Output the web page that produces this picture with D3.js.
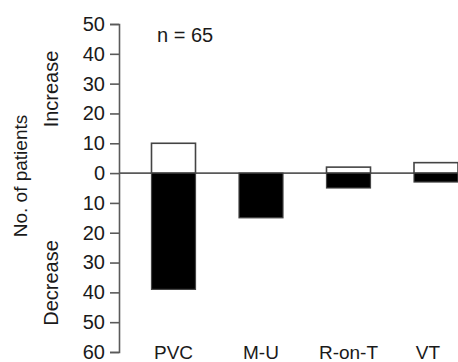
<!DOCTYPE html>
<html>
<head>
<meta charset="utf-8">
<script src="https://cdn.jsdelivr.net/npm/d3@7"></script>
<style>
  html, body { margin: 0; padding: 0; background: #fff; }
  svg { display: block; }
  text { font-family: "Liberation Sans", Arial, sans-serif; fill: #1a1a1a; }
</style>
</head>
<body>
<svg id="chart" width="458" height="362"></svg>
<script>
const categories = ["PVC", "M-U", "R-on-T", "VT"];
const increaseValues = [10, 0, 2, 3.5];
const decreaseValues = [39, 15, 5, 3];
const tickValues = [50, 40, 30, 20, 10, 0, -10, -20, -30, -40, -50, -60];
const tickLabels = ["50", "40", "30", "20", "10", "0", "10", "20", "30", "40", "50", "60"];
const annotation = "n = 65";

const svg = d3.select("#chart");
const W = 458, H = 362;
const axisX = 119;

const y = d3.scaleLinear().domain([-60, 50]).range([352, 24]);
const x = d3.scalePoint().domain(categories).range([173.5, 436]);
const barW = 44;
const lineColor = "#5a5a5a";

// zero line
svg.append("line")
  .attr("x1", axisX).attr("x2", W)
  .attr("y1", y(0)).attr("y2", y(0))
  .attr("stroke", lineColor).attr("stroke-width", 1.6);

// y axis
const yAxis = d3.axisLeft(y)
  .tickValues(tickValues)
  .tickFormat((d, i) => tickLabels[i])
  .tickSize(9)
  .tickPadding(5);
const gAxis = svg.append("g").attr("transform", `translate(${axisX},0)`).call(yAxis);
gAxis.select(".domain").attr("stroke", lineColor).attr("stroke-width", 1.6);
gAxis.selectAll(".tick line").attr("stroke", lineColor).attr("stroke-width", 1.6);
gAxis.selectAll(".tick text")
  .attr("font-family", "Liberation Sans, Arial, sans-serif")
  .attr("font-size", 20).attr("fill", "#1a1a1a");

// increase bars (white)
svg.selectAll("rect.inc")
  .data(categories.map((c, i) => ({c, v: increaseValues[i]})).filter(d => d.v > 0))
  .enter().append("rect").attr("class", "inc")
  .attr("x", d => x(d.c) - barW / 2)
  .attr("width", barW)
  .attr("y", d => y(d.v))
  .attr("height", d => y(0) - y(d.v))
  .attr("fill", "#fff").attr("stroke", "#444").attr("stroke-width", 1.6);

// decrease bars (black)
svg.selectAll("rect.dec")
  .data(categories.map((c, i) => ({c, v: decreaseValues[i]})))
  .enter().append("rect").attr("class", "dec")
  .attr("x", d => x(d.c) - barW / 2)
  .attr("width", barW)
  .attr("y", y(0))
  .attr("height", d => y(-d.v) - y(0))
  .attr("fill", "#000").attr("stroke", "#444").attr("stroke-width", 1.2);

// category labels
svg.selectAll("text.cat")
  .data(categories)
  .enter().append("text").attr("class", "cat")
  .attr("x", d => x(d) - (d === "VT" ? 8 : 0))
  .attr("y", 359)
  .attr("text-anchor", "middle")
  .attr("font-size", 19)
  .text(d => d);

// annotation
svg.append("text").attr("x", 157).attr("y", 42).attr("font-size", 20).text(annotation);

// y labels
svg.append("text")
  .attr("transform", `translate(27,176) rotate(-90)`)
  .attr("text-anchor", "middle").attr("font-size", 19)
  .text("No. of patients");
svg.append("text")
  .attr("transform", `translate(58,89) rotate(-90)`)
  .attr("text-anchor", "middle").attr("font-size", 20)
  .text("Increase");
svg.append("text")
  .attr("transform", `translate(58,283) rotate(-90)`)
  .attr("text-anchor", "middle").attr("font-size", 20)
  .text("Decrease");
</script>
</body>
</html>
